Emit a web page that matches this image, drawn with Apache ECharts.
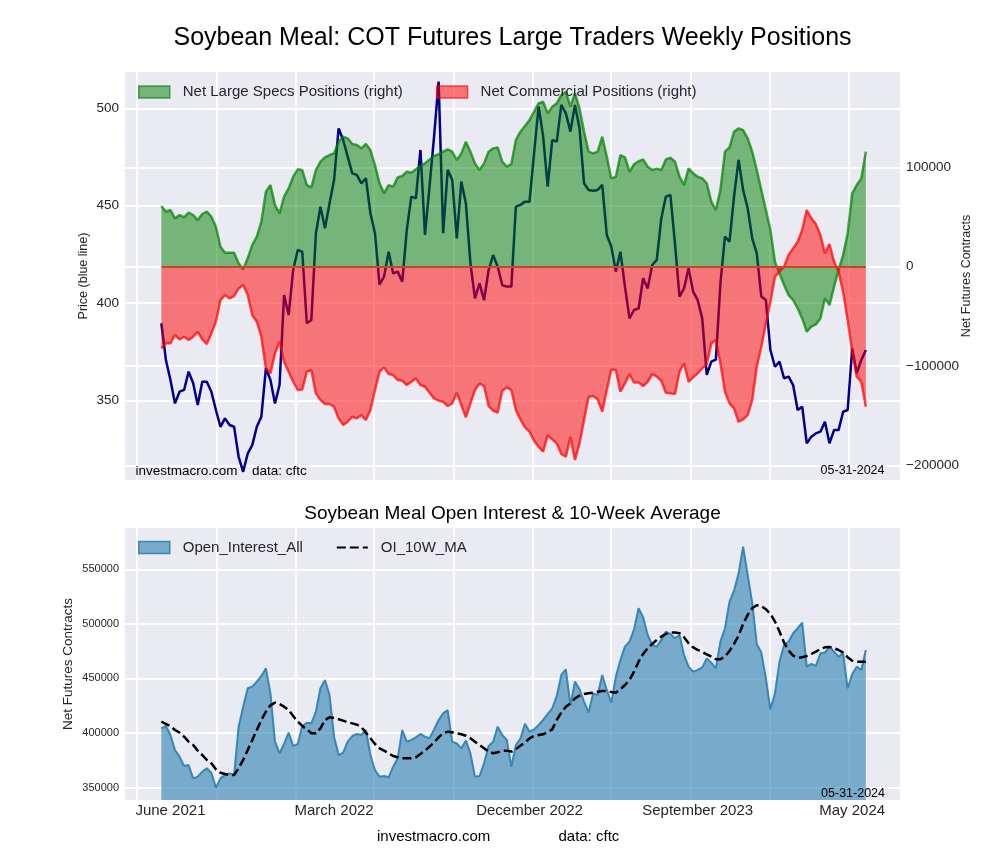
<!DOCTYPE html>
<html><head><meta charset="utf-8">
<script src="https://cdn.jsdelivr.net/npm/echarts@6/dist/echarts.min.js"></script>
<style>html,body{margin:0;padding:0;background:#fff}#c{width:1000px;height:860px}</style>
</head><body><div id="c"></div>
<script>
// ---------- data (weekly COT reports, first report 2021-06-08, last 2024-05-28) ----------
const FIRST_REPORT = '2021-06-08';
const price = [
389.7,370.9,360.6,348.6,354.6,355.5,364.9,358.9,347.8,359.7,
359.7,354.6,345.2,336.6,340.9,337.5,336.6,321.2,313.5,322.9,
327.2,336.6,341.8,366.6,360.6,348.6,358.0,404.2,393.9,417.0,
427.3,426.4,389.7,391.4,435.9,449.5,438.4,451.2,463.2,489.7,
483.7,475.2,466.6,465.8,461.5,464.1,446.1,435.9,409.5,413.6,
426.4,415.3,416.2,411.0,437.6,454.7,453.8,478.6,435.0,459.8,
485.5,513.7,435.9,468.4,463.2,433.3,462.4,451.2,420.5,402.5,
410.2,401.6,417.0,424.7,418.7,409.3,408.5,408.5,449.5,450.4,
452.1,452.1,476.9,500.9,485.5,459.8,483.7,482.9,501.7,497.4,
488.0,501.7,489.7,461.5,458.1,457.7,458.1,460.7,435.0,429.0,
416.2,426.4,408.5,392.2,396.5,397.3,412.8,407.6,419.6,422.2,
443.6,454.7,455.5,430.7,403.4,407.6,417.9,405.9,401.6,392.2,
363.2,370.0,371.0,410.0,434.1,431.6,454.7,473.5,458.1,448.7,
433.3,425.6,403.4,401.6,376.0,367.4,370.0,361.5,362.3,358.0,
345.2,346.9,328.1,331.5,333.2,334.1,339.2,328.1,334.9,334.9,
344.3,345.2,376.8,364.0,370.9,376.0];
const netLargeSpecs = [
61000,55300,57000,48600,52000,49600,54300,52000,46900,53000,
55300,50300,40200,20100,14100,14100,14100,3400,-2700,8400,
21800,30200,45300,75400,82100,62000,53600,70400,78800,90500,
97900,97200,82100,79800,97200,105600,110000,112300,114000,125700,
130700,129100,123400,122400,119000,123400,117300,102200,83800,73800,
82100,80500,89800,91200,95500,94500,97900,101200,103900,107900,
111300,113000,115700,118000,115700,107300,114000,125700,115700,103900,
97200,103900,115700,119000,120000,105600,100600,103300,127400,135800,
141500,147500,155900,164300,165900,154200,160900,164300,172600,176000,
160900,174300,159200,135800,115700,114000,115700,130700,110600,88800,
90500,112300,110000,95500,103000,106000,107900,100600,97200,98600,
97200,107900,109600,105600,90500,82100,98900,93900,90500,88800,
83800,65400,57000,77100,115700,120000,135800,139100,137400,129100,
115700,97200,77100,57000,36900,5000,-6700,-18400,-28500,-33500,
-41900,-52000,-65400,-60300,-58000,-52000,-31800,-38600,-20100,-3400,
11700,33500,73800,82100,88800,115700];
const netCommercial = [
-82100,-77100,-77100,-68700,-73100,-70400,-73800,-70400,-65400,-73100,
-77800,-67000,-55300,-33500,-28500,-31800,-29500,-21800,-18400,-28500,
-48600,-55300,-70400,-102200,-107300,-87200,-75400,-95500,-105600,-115700,
-124000,-123400,-105600,-103900,-127400,-134100,-138100,-138100,-140800,-152500,
-159200,-155900,-150900,-152500,-149200,-154200,-144200,-124000,-105600,-101200,
-107900,-109000,-114000,-114700,-119000,-115700,-112300,-119000,-120700,-126700,
-132400,-134800,-135800,-140100,-137400,-126700,-139100,-151500,-137400,-124000,
-117300,-120000,-140100,-144800,-146800,-124700,-121400,-124000,-144200,-153500,
-161600,-165900,-175000,-181000,-186100,-169300,-173700,-177700,-188400,-191100,
-171000,-194400,-177700,-154200,-130700,-130100,-133400,-145800,-124000,-103300,
-103900,-125700,-117300,-107900,-116500,-116500,-120000,-115700,-107900,-110600,
-114700,-126700,-127400,-128100,-105600,-97200,-115700,-111300,-107300,-102200,
-97900,-77100,-73800,-97200,-125700,-137400,-142500,-155900,-153500,-149200,
-134100,-100600,-80500,-57000,-35200,-10100,-5000,0,11700,18400,
25100,36900,57000,48600,42900,31800,13400,22800,5000,-5000,
-25100,-53600,-85500,-110600,-115700,-140800];
const openInterest = [
404300,406500,398200,384500,378400,369800,370800,358500,360100,364700,
367700,363700,350000,358500,361600,363100,361600,405900,424200,441000,
442500,447100,452300,459300,436400,392100,381500,390000,400400,388200,
390000,406500,409500,408900,419600,441000,448600,434900,396700,379900,
382100,392100,397300,399200,398200,402800,379900,366200,360100,360700,
359500,369200,376900,402800,392100,393700,396100,399200,396700,395200,
403400,412000,418100,421100,392100,390600,386000,393100,381500,360100,
360700,372300,388200,392100,405900,398200,393700,369200,389100,395000,
408500,401300,403400,407400,412000,417500,422700,434000,453200,458400,
425700,447100,440100,428800,418700,436400,434900,453200,439500,427900,
451700,466900,479200,483700,495000,514300,506000,489800,480700,479200,
485300,492900,490800,486800,489800,471500,460800,456300,457800,460200,
468400,464500,459300,483700,496000,520400,530500,546300,570800,544800,
519500,481600,473700,450200,421800,436400,465400,480700,483700,491400,
496000,501100,460800,463300,461500,473000,473700,479200,474600,470000,
473000,441000,454100,460800,457800,476100];
const oi10WeekMA = [
410500,408300,406500,402800,400400,396700,392100,389100,383900,379900,
375400,372300,366800,363700,362500,361600,361600,367700,375400,384500,
393700,402800,412000,419600,425400,427900,426600,424200,421100,415600,
410500,406500,403400,399800,399800,404300,412000,414400,413800,412600,
411400,409900,408900,407700,405300,400400,395200,390000,386000,383900,
381500,379000,377900,376900,376900,376900,377900,380900,383900,387600,
391300,396100,399800,401300,400700,399800,398900,397600,395200,392100,
389100,386000,383000,381500,382400,383600,383900,383000,385200,388500,
391300,395200,397300,398200,398900,401000,403400,412000,418700,424200,
427300,431800,434300,435800,436400,437000,437900,438500,438500,437600,
437000,440100,444000,448600,456300,465400,472400,477600,481600,485300,
488300,490800,492000,492000,491400,487800,482200,478500,476100,474300,
472100,470000,467600,467600,470000,475200,481600,489200,499900,508200,
514300,517000,516400,513400,509200,502100,493000,482900,475600,470900,
468800,469400,470600,472400,474600,477000,478500,478900,477600,476100,
473700,469400,466300,465400,465400,465400];
const xTickLabels = ['June 2021','March 2022','December 2022','September 2023','May 2024'];
const xTickLabelIndex = [2, 38, 81, 118, 152];
const xGridMonths = ['2021-05-01','2021-09-01','2022-01-01','2022-05-01','2022-09-01',
                     '2023-01-01','2023-05-01','2023-09-01','2024-01-01','2024-05-01'];
const priceTicks = [350, 400, 450, 500];
const netTicks = [-200000, -100000, 0, 100000];
const oiTicks = [350000, 400000, 450000, 500000, 550000];
const reportDate = '05-31-2024';

// ---------- helpers ----------
const DAY = 86400000;
const ORIGIN = Date.UTC(2021, 4, 1);
const dayOf = s => (Date.parse(s + 'T00:00:00Z') - ORIGIN) / DAY;
const firstDay = dayOf(FIRST_REPORT);
const days = price.map((_, i) => firstDay + 7 * i);
const pair = arr => arr.map((v, i) => [days[i], v]);
const gridDays = xGridMonths.map(dayOf);
const labelDays = xTickLabelIndex.map(i => days[i]);
const labelMap = {};
labelDays.forEach((d, k) => { labelMap[d] = xTickLabels[k]; });

const FONT = "'Liberation Sans', Arial, sans-serif";
const TXT = '#262626';
const BG = '#EAEAF2';
const X_MIN = -18, X_MAX = 1175.6;
const gridLine = { show: true, lineStyle: { color: '#ffffff', width: 1.8 } };
const plain = v => String(v).replace('-', '\u2212');

const chart = echarts.init(document.getElementById('c'), null, { renderer: 'canvas' });

const xBase = (gi, showLabels) => ({
  type: 'value', gridIndex: gi, min: X_MIN, max: X_MAX,
  axisLine: { show: false },
  axisTick: { show: false, customValues: gridDays },
  splitLine: gridLine,
  axisLabel: showLabels ? {
    show: true, customValues: labelDays, margin: 3,
    fontSize: 15, color: TXT, fontFamily: FONT,
    formatter: v => labelMap[v] || ''
  } : { show: false }
});

const option = {
  animation: false,
  backgroundColor: '#ffffff',
  textStyle: { fontFamily: FONT },
  title: [
    { text: 'Soybean Meal: COT Futures Large Traders Weekly Positions', left: 512.5, top: 23,
      textAlign: 'center', padding: 0,
      textStyle: { fontSize: 25, fontWeight: 'normal', color: '#000', fontFamily: FONT, lineHeight: 30 } },
    { text: 'Soybean Meal Open Interest & 10-Week Average', left: 512.5, top: 501.5,
      textAlign: 'center', padding: 0,
      textStyle: { fontSize: 19, fontWeight: 'normal', color: '#000', fontFamily: FONT, lineHeight: 24 } }
  ],
  grid: [
    { left: 125, right: 100, top: 72, height: 408, show: true, backgroundColor: BG, borderWidth: 0 },
    { left: 125, right: 100, top: 528, height: 272, show: true, backgroundColor: BG, borderWidth: 0 }
  ],
  legend: [
    { left: 138, top: 84, padding: 0, itemWidth: 31, itemHeight: 12, itemGap: 33, icon: 'rect',
      textStyle: { fontSize: 15, color: TXT, fontFamily: FONT, padding: [0, 0, 0, 8], lineHeight: 16 },
      data: [
        { name: 'Net Large Specs Positions (right)',
          itemStyle: { color: 'rgba(0,128,0,0.5)', borderColor: 'rgba(0,128,0,0.65)', borderWidth: 1.5, opacity: 1 } },
        { name: 'Net Commercial Positions (right)',
          itemStyle: { color: 'rgba(255,0,0,0.5)', borderColor: 'rgba(255,0,0,0.65)', borderWidth: 1.5, opacity: 1 } }
      ] },
    { left: 138, top: 539.5, padding: 0, itemWidth: 31, itemHeight: 12, itemGap: 33,
      textStyle: { fontSize: 15, color: TXT, fontFamily: FONT, padding: [0, 0, 0, 8], lineHeight: 16 },
      data: [
        { name: 'Open_Interest_All', icon: 'rect',
          itemStyle: { color: 'rgba(42,127,176,0.6)', borderColor: 'rgba(42,127,176,0.9)', borderWidth: 1.5, opacity: 1 } },
        { name: 'OI_10W_MA', itemStyle: { opacity: 0 } }
      ] }
  ],
  xAxis: [ xBase(0, false), xBase(1, true) ],
  yAxis: [
    { type: 'value', gridIndex: 0, position: 'left', min: 309.3, max: 518.6,
      name: 'Price (blue line)', nameLocation: 'middle', nameGap: 35, nameRotate: 90, nameMoveOverlap: false,
      nameTextStyle: { fontSize: 12.5, color: TXT, fontFamily: FONT },
      axisLine: { show: false }, axisTick: { show: false, customValues: priceTicks },
      axisLabel: { customValues: priceTicks, fontSize: 13.5, color: TXT, margin: 6, fontFamily: FONT, formatter: plain },
      splitLine: gridLine },
    { type: 'value', gridIndex: 0, position: 'right', min: -214500, max: 195800,
      name: 'Net Futures Contracts', nameLocation: 'middle', nameGap: 60, nameRotate: 90, nameMoveOverlap: false,
      nameTextStyle: { fontSize: 12.5, color: TXT, fontFamily: FONT },
      axisLine: { show: false }, axisTick: { show: false, customValues: netTicks },
      axisLabel: { customValues: netTicks, fontSize: 13.5, color: TXT, margin: 6, fontFamily: FONT, formatter: plain },
      splitLine: gridLine },
    { type: 'value', gridIndex: 1, position: 'left', min: 338700, max: 587800,
      name: 'Net Futures Contracts', nameLocation: 'middle', nameGap: 50, nameRotate: 90, nameMoveOverlap: false,
      nameTextStyle: { fontSize: 13.5, color: TXT, fontFamily: FONT },
      axisLine: { show: false }, axisTick: { show: false, customValues: oiTicks },
      axisLabel: { customValues: oiTicks, fontSize: 11, color: TXT, margin: 6, fontFamily: FONT, formatter: plain },
      splitLine: gridLine }
  ],
  series: [
    { name: 'Price', type: 'line', xAxisIndex: 0, yAxisIndex: 0, data: pair(price),
      symbol: 'none', z: 2, lineStyle: { color: '#00008B', width: 2.5 }, itemStyle: { color: '#00008B' } },
    { name: 'Net Large Specs Positions (right)', type: 'line', xAxisIndex: 0, yAxisIndex: 1,
      data: pair(netLargeSpecs), symbol: 'none', z: 3,
      itemStyle: { color: 'rgba(0,128,0,0.5)' },
      lineStyle: { color: 'rgba(0,128,0,0.7)', width: 2.5 },
      areaStyle: { color: 'rgba(0,128,0,0.5)', opacity: 1, origin: 0 } },
    { name: 'Net Commercial Positions (right)', type: 'line', xAxisIndex: 0, yAxisIndex: 1,
      data: pair(netCommercial), symbol: 'none', z: 4,
      itemStyle: { color: 'rgba(255,0,0,0.5)' },
      lineStyle: { color: 'rgba(255,0,0,0.7)', width: 2.5 },
      areaStyle: { color: 'rgba(255,0,0,0.5)', opacity: 1, origin: 0 },
      markLine: { silent: true, symbol: ['none', 'none'], label: { show: false },
        lineStyle: { color: 'rgb(200,70,40)', width: 2, type: 'solid', opacity: 1 },
        data: [[ { coord: [days[0], 0] }, { coord: [days[days.length - 1], 0] } ]] } },
    { name: 'Open_Interest_All', type: 'line', xAxisIndex: 1, yAxisIndex: 2,
      data: pair(openInterest), symbol: 'none', z: 2,
      itemStyle: { color: 'rgba(42,127,176,0.6)' },
      lineStyle: { color: 'rgba(42,127,176,0.9)', width: 2 },
      areaStyle: { color: 'rgba(42,127,176,0.6)', opacity: 1, origin: 'start' } },
    { name: 'OI_10W_MA', type: 'line', xAxisIndex: 1, yAxisIndex: 2,
      data: pair(oi10WeekMA), symbol: 'none', z: 3,
      itemStyle: { color: '#000' },
      lineStyle: { color: '#000', width: 2.5, type: [9, 4] } }
  ],
  graphic: [
    { type: 'text', x: 135.5, y: 471, z: 100, silent: true,
      style: { text: 'investmacro.com', fill: '#000', font: '13.5px ' + FONT, align: 'left', verticalAlign: 'middle' } },
    { type: 'text', x: 252, y: 471, z: 100, silent: true,
      style: { text: 'data: cftc', fill: '#000', font: '13.5px ' + FONT, align: 'left', verticalAlign: 'middle' } },
    { type: 'text', x: 884.5, y: 471, z: 100, silent: true,
      style: { text: reportDate, fill: '#000', font: '12.5px ' + FONT, align: 'right', verticalAlign: 'middle' } },
    { type: 'text', x: 885, y: 794, z: 100, silent: true,
      style: { text: reportDate, fill: '#000', font: '12.5px ' + FONT, align: 'right', verticalAlign: 'middle' } },
    { type: 'text', x: 377, y: 837, z: 100, silent: true,
      style: { text: 'investmacro.com', fill: '#000', font: '15px ' + FONT, align: 'left', verticalAlign: 'middle' } },
    { type: 'text', x: 558.5, y: 837, z: 100, silent: true,
      style: { text: 'data: cftc', fill: '#000', font: '15px ' + FONT, align: 'left', verticalAlign: 'middle' } }
  ]
};
chart.setOption(option);
</script>
</body></html>
